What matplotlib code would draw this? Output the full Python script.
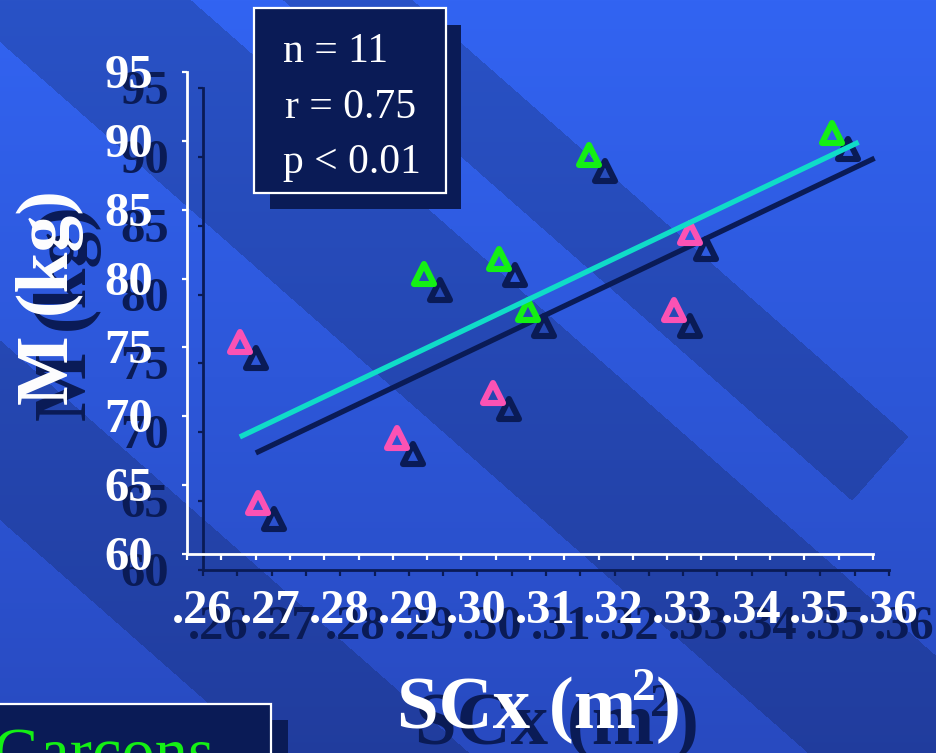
import numpy as np
import matplotlib.pyplot as plt
from matplotlib.patches import Rectangle
from matplotlib.markers import MarkerStyle
from matplotlib.transforms import offset_copy, blended_transform_factory

plt.rcParams['font.family'] = ['Liberation Serif', 'DejaVu Serif']

# Data
pink_x = [0.2677, 0.2704, 0.2906, 0.3046, 0.3310, 0.3333]
pink_y = [75.4, 63.7, 68.4, 71.7, 77.7, 83.3]
green_x = [0.2946, 0.3055, 0.3097, 0.3186, 0.3540]
green_y = [80.3, 81.4, 77.7, 89.0, 90.6]
fit_x = [0.2677, 0.3579]
fit_y = [68.5, 89.9]

x_ticks = [.26, .27, .28, .29, .30, .31, .32, .33, .34, .35, .36]
x_labels = ['.26', '.27', '.28', '.29', '.30', '.31', '.32', '.33', '.34', '.35', '.36']
y_ticks = [60, 65, 70, 75, 80, 85, 90, 95]
stats = ['n = 11', 'r = 0.75', 'p < 0.01']
legend_label = 'Garçons'

navy = '#0a1b56'
pink = '#fb52b4'
green = '#14f014'
cyan = '#10dcc8'

W, H = 937, 753
fig = plt.figure(figsize=(W / 100, H / 100), dpi=100)


def fx(px):
    return px / W


def fy(py):
    return 1 - py / H


# background: vertical gradient with diagonal darker bands
yy, xx = np.mgrid[0:H, 0:W].astype(float)
t = (yy / H)[..., None]
img = np.array([50, 100, 242]) * (1 - t) + np.array([40, 74, 192]) * t
u = yy - 0.88 * xx
v = xx + 0.88 * yy
dark = (((u > -363) & (u < -249) & (v < 1292)) | ((u > -168) & (u < 42))
        | ((u > 340) & (u < 520)))
img[dark] *= 0.82
bg = fig.add_axes([0, 0, 1, 1], zorder=0)
bg.imshow(img / 255, extent=(0, W, H, 0), aspect='auto', interpolation='nearest')
bg.set_xlim(0, W)
bg.set_ylim(H, 0)
bg.axis('off')

tri = MarkerStyle('^', joinstyle='round')


def draw_layer(ax, axis_col, c_pink, c_green, c_line):
    ax.set_xlim(.26, .36)
    ax.set_ylim(60, 95)
    ax.patch.set_visible(False)
    for s in ['top', 'right']:
        ax.spines[s].set_visible(False)
    for s in ['left', 'bottom']:
        ax.spines[s].set_color(axis_col)
        ax.spines[s].set_linewidth(2)
    ax.set_xticks(np.arange(.26, .3601, .005))
    ax.set_yticks(y_ticks)
    ax.tick_params(colors=axis_col, width=1.6, labelleft=False, labelbottom=False)
    ax.tick_params(axis='x', length=4)
    ax.tick_params(axis='y', length=3.5)

    tr_x = offset_copy(blended_transform_factory(ax.transData, ax.transAxes),
                       fig=fig, x=15, y=-69, units='dots')
    for xv, s in zip(x_ticks, x_labels):
        ax.text(xv, 0, s, transform=tr_x, ha='center', va='baseline',
                fontsize=35, fontweight='bold', color=axis_col)
    tr_y = offset_copy(blended_transform_factory(ax.transAxes, ax.transData),
                       fig=fig, x=-34, y=-16, units='dots')
    for yv in y_ticks:
        ax.text(0, yv, str(yv), transform=tr_y, ha='right', va='baseline',
                fontsize=35, fontweight='bold', color=axis_col)

    ax.plot(pink_x, pink_y, ls='none', marker=tri, ms=14, mew=4.4,
            mfc='none', mec=c_pink, clip_on=False, zorder=2)
    ax.plot(green_x, green_y, ls='none', marker=tri, ms=14, mew=4.4,
            mfc='none', mec=c_green, clip_on=False, zorder=2)
    ax.plot(fit_x, fit_y, color=c_line, lw=3.8, solid_capstyle='butt', zorder=3)


pos = [fx(187), fy(554), (873 - 187) / W, (554 - 72) / H]
ax_sh = fig.add_axes([pos[0] + 16 / W, pos[1] - 16 / H, pos[2], pos[3]], zorder=1)
draw_layer(ax_sh, navy, navy, navy, navy)
ax = fig.add_axes(pos, zorder=2)
draw_layer(ax, 'white', pink, green, cyan)

# axis titles with shadows
fig.text(fx(86), fy(314), 'M (kg)', rotation=90, rotation_mode='anchor',
         ha='center', va='baseline', fontsize=53, fontweight='bold', color=navy, zorder=3)
fig.text(fx(68), fy(298), 'M (kg)', rotation=90, rotation_mode='anchor',
         ha='center', va='baseline', fontsize=53, fontweight='bold', color='white', zorder=4)
for dx, dy, col, z in [(18, 16, navy, 3), (0, 0, 'white', 4)]:
    fig.text(fx(397 + dx), fy(728 + dy), 'SCx (m', ha='left', va='baseline',
             fontsize=54, fontweight='bold', color=col, zorder=z)
    fig.text(fx(632 + dx), fy(700 + dy), '2', ha='left', va='baseline',
             fontsize=34, fontweight='bold', color=col, zorder=z)
    fig.text(fx(656 + dx), fy(728 + dy), ')', ha='left', va='baseline',
             fontsize=54, fontweight='bold', color=col, zorder=z)

# stats box
fig.add_artist(Rectangle((fx(270), fy(209)), 191 / W, 184 / H, transform=fig.transFigure,
                         fc=navy, ec='none', zorder=5))
fig.add_artist(Rectangle((fx(254), fy(193)), 192 / W, 185 / H, transform=fig.transFigure,
                         fc=navy, ec='white', lw=1.6, zorder=6))
for s, (px, py) in zip(stats, [(283, 62), (285, 118), (283, 173)]):
    fig.text(fx(px), fy(py), s, ha='left', va='baseline', fontsize=30,
             color='white', zorder=7)

# legend box (cut off at the bottom of the slide)
fig.add_artist(Rectangle((fx(12), fy(775)), 276 / W, 55 / H, transform=fig.transFigure,
                         fc=navy, ec='none', zorder=5))
fig.add_artist(Rectangle((fx(-5), fy(775)), 276 / W, 71 / H, transform=fig.transFigure,
                         fc=navy, ec='white', lw=1.6, zorder=6))
fig.text(fx(-8), fy(774), legend_label, ha='left', va='baseline', fontsize=48,
         color=green, zorder=7)

fig.savefig('out.png', dpi=100)
